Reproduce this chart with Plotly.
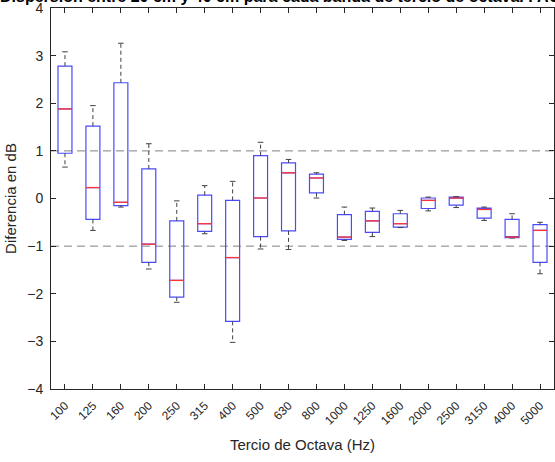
import plotly.graph_objects as go

categories = ["100", "125", "160", "200", "250", "315", "400", "500", "630",
              "800", "1000", "1250", "1600", "2000", "2500", "3150", "4000", "5000"]
upper = [3.08, 1.95, 3.26, 1.15, -0.05, 0.27, 0.36, 1.18, 0.82,
         0.54, -0.18, -0.20, -0.25, 0.03, 0.04, -0.18, -0.32, -0.50]
q3 = [2.78, 1.52, 2.43, 0.62, -0.47, 0.07, -0.04, 0.90, 0.75,
      0.51, -0.34, -0.27, -0.32, 0.01, 0.03, -0.20, -0.44, -0.55]
median = [1.88, 0.23, -0.08, -0.96, -1.72, -0.53, -1.24, 0.01, 0.54,
          0.43, -0.81, -0.47, -0.53, -0.04, 0.01, -0.23, -0.81, -0.67]
q1 = [0.95, -0.44, -0.15, -1.34, -2.07, -0.69, -2.58, -0.80, -0.68,
      0.12, -0.86, -0.71, -0.60, -0.21, -0.14, -0.41, -0.82, -1.34]
lower = [0.66, -0.67, -0.18, -1.48, -2.18, -0.74, -3.02, -1.06, -1.07,
         0.01, -0.88, -0.80, -0.61, -0.26, -0.19, -0.46, -0.83, -1.58]
ref_levels = [1, -1]

title_text = "Dispersión entre 20 cm y 40 cm para cada banda de tercio de octava. FAC"
x_title = "Tercio de Octava (Hz)"
y_title = "Diferencia en dB"

BOX_W = 0.5
CAP_W = 0.2
pos = list(range(len(categories)))

fig = go.Figure()

# Whiskers (dashed)
wx, wy = [], []
for i in pos:
    wx += [i, i, None, i, i, None]
    wy += [q3[i], upper[i], None, q1[i], lower[i], None]
fig.add_trace(go.Scatter(x=wx, y=wy, mode="lines", hoverinfo="skip",
                         line=dict(color="#404040", width=1, dash="4px,3px"),
                         showlegend=False))
# Caps
cx, cy = [], []
for i in pos:
    cx += [i - CAP_W / 2, i + CAP_W / 2, None, i - CAP_W / 2, i + CAP_W / 2, None]
    cy += [upper[i], upper[i], None, lower[i], lower[i], None]
fig.add_trace(go.Scatter(x=cx, y=cy, mode="lines", hoverinfo="skip",
                         line=dict(color="#404040", width=1), showlegend=False))

# Boxes
fig.add_trace(go.Box(x=pos, q1=q1, median=median, q3=q3, lowerfence=q1, upperfence=q3,
                     width=BOX_W, fillcolor="rgba(0,0,0,0)",
                     line=dict(color="#4a4aff", width=1.2), whiskerwidth=0,
                     boxpoints=False, showlegend=False))

# Medians (red, drawn over the box's own median line)
mx, my = [], []
for i in pos:
    mx += [i - BOX_W / 2, i + BOX_W / 2, None]
    my += [median[i], median[i], None]
fig.add_trace(go.Scatter(x=mx, y=my, mode="lines", hoverinfo="skip",
                         line=dict(color="#ff3535", width=1.3), showlegend=False))

for lv in ref_levels:
    fig.add_shape(type="line", xref="paper", x0=0, x1=1, yref="y", y0=lv, y1=lv,
                  line=dict(color="#808080", width=1, dash="8px,5px"), layer="below")

axis_color = "#262626"
fig.update_layout(
    width=555, height=462,
    margin=dict(l=51, r=1, t=8, b=73),
    plot_bgcolor="white", paper_bgcolor="white",
    font=dict(family="Liberation Sans, Arial, sans-serif", color=axis_color),
    title=dict(text="<b>" + title_text + "</b>", xref="container", x=0.0, xanchor="left",
               yref="container", y=0.996, yanchor="bottom",
               font=dict(size=16, color="black")),
    xaxis=dict(range=[-0.5, len(categories) - 0.5], tickmode="array", tickvals=pos,
               ticktext=categories, tickangle=-45, tickfont=dict(size=12),
               ticks="inside", ticklen=5, tickcolor=axis_color, ticklabelstandoff=4,
               showline=True, linecolor=axis_color, linewidth=1, mirror="ticks",
               showgrid=False, zeroline=False,
               title=dict(text=x_title, font=dict(size=15), standoff=12)),
    yaxis=dict(range=[-4, 4], dtick=1, tickfont=dict(size=14),
               ticks="inside", ticklen=5, tickcolor=axis_color, ticklabelstandoff=4,
               ticklabeloverflow="allow",
               showline=True, linecolor=axis_color, linewidth=1, mirror="ticks",
               showgrid=False, zeroline=False,
               title=dict(text=y_title, font=dict(size=15), standoff=6)),
)

fig.write_html("out.html")
